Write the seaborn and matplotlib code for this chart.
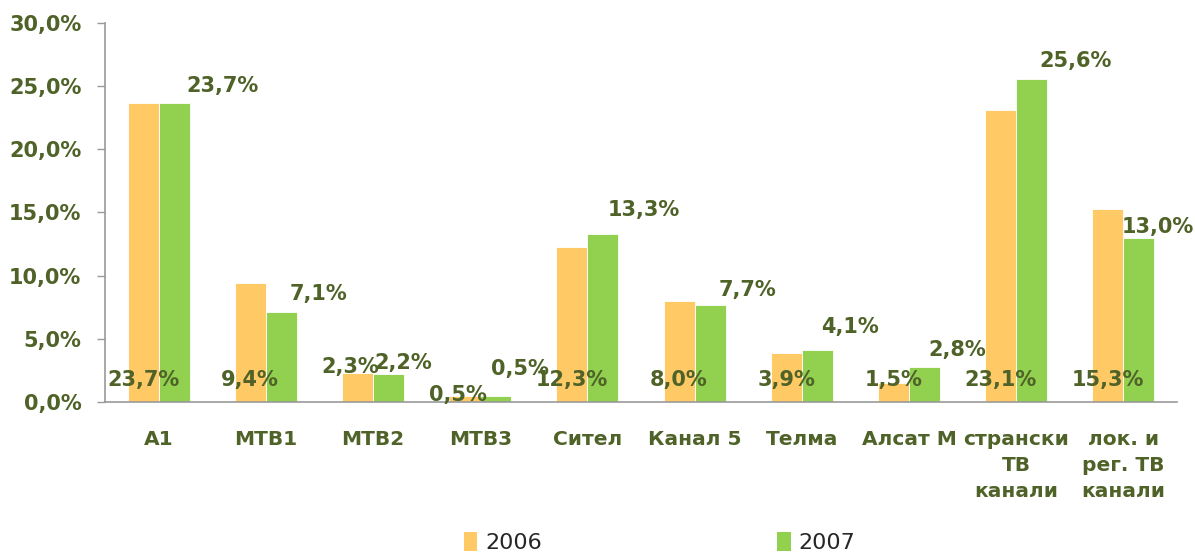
import numpy as np
import pandas as pd
import seaborn as sns
import matplotlib.pyplot as plt
from matplotlib.patches import Patch
from matplotlib.ticker import FuncFormatter, FixedLocator

sns.set_theme(style="white")

categories = ["А1", "МТВ1", "МТВ2", "МТВ3", "Сител", "Канал 5", "Телма", "Алсат М",
              "странски\nТВ\nканали", "лок. и\nрег. ТВ\nканали"]
share2006 = [23.7, 9.4, 2.3, 0.5, 12.3, 8.0, 3.9, 1.5, 23.1, 15.3]
share2007 = [23.7, 7.1, 2.2, 0.5, 13.3, 7.7, 4.1, 2.8, 25.6, 13.0]
years = ["2006", "2007"]

# label placement (as drawn in the original, labels were nudged by hand)
lab06_y = [1.75, 1.75, 2.75, 0.55, 1.75, 1.75, 1.75, 1.75, 1.75, 1.75]
lab06_dx = [0, 0, -7, -7, 0, 0, 0, 0, 0, 0]
lab07_dx = [48, 37, 15, 24, 41, 37, 33, 33, 44, 19]
lab07_dy = [17, 18, 11, 27, 24, 15, 23, 17, 18, 11]

colors = {"2006": "#FFC966", "2007": "#92D050"}
textColor = "#4F6228"
labelSize = 15

df = pd.DataFrame({"cat": categories * 2,
                   "year": ["2006"] * len(categories) + ["2007"] * len(categories),
                   "value": share2006 + share2007})

fig = plt.figure(figsize=(11.95, 5.54), dpi=100)
ax = fig.add_axes([0.0879, 0.2744, 0.897, 0.6841])

sns.barplot(data=df, x="cat", y="value", hue="year", palette=colors, width=0.58,
            saturation=1, edgecolor="white", linewidth=0.6, ax=ax, legend=False)

ax.set(xlim=(-0.5, len(categories) - 0.5), ylim=(0, 30), xlabel="", ylabel="")
ax.yaxis.set_major_locator(FixedLocator(np.arange(0, 30.1, 5)))
ax.yaxis.set_major_formatter(FuncFormatter(lambda v, p: f"{v:.1f}%".replace(".", ",")))
for t in ax.get_yticklabels():
    t.set_fontweight("bold")
    t.set_fontsize(labelSize)
    t.set_color(textColor)
    t.set_family("DejaVu Sans")

ax.set_xticks(range(len(categories)))
ax.set_xticklabels(categories, fontsize=14.5, fontweight="bold", color=textColor,
                   family="DejaVu Sans", va="top", linespacing=1.45)
ax.set_xticks(np.arange(-0.5, len(categories), 1), minor=True)
ax.tick_params(axis="x", which="major", length=0, pad=20.5)
ax.tick_params(axis="x", which="minor", length=6, width=1, color="#999999", direction="out")
ax.tick_params(axis="y", length=6, width=1, color="#999999", direction="out", left=True, pad=11)

for s in ["top", "right"]:
    ax.spines[s].set_visible(False)
for s in ["left", "bottom"]:
    ax.spines[s].set_color("#999999")
    ax.spines[s].set_linewidth(1.2)

bars06 = ax.containers[0]
bars07 = ax.containers[1]
for i, (b6, b7) in enumerate(zip(bars06, bars07)):
    x6 = b6.get_x() + b6.get_width() / 2
    ax.annotate(f"{share2006[i]:.1f}%".replace(".", ","), (x6, lab06_y[i]),
                xytext=(lab06_dx[i], 0), textcoords="offset pixels",
                ha="center", va="center", fontsize=labelSize, fontweight="bold",
                color=textColor, family="DejaVu Sans", annotation_clip=False)
    x7 = b7.get_x() + b7.get_width() / 2
    ax.annotate(f"{share2007[i]:.1f}%".replace(".", ","), (x7, share2007[i]),
                xytext=(lab07_dx[i], lab07_dy[i]), textcoords="offset pixels",
                ha="center", va="center", fontsize=labelSize, fontweight="bold",
                color=textColor, family="DejaVu Sans", annotation_clip=False)

handles = [Patch(facecolor=colors[y], edgecolor="none", label=y) for y in years]
fig.legend(handles=handles, loc="center", bbox_to_anchor=(0.552, 0.021), ncol=2,
           frameon=False, prop={"family": "DejaVu Sans", "size": 16},
           handlelength=0.6, handleheight=1.0, handletextpad=0.35, columnspacing=10.6)

plt.savefig("out.png", dpi=100)
